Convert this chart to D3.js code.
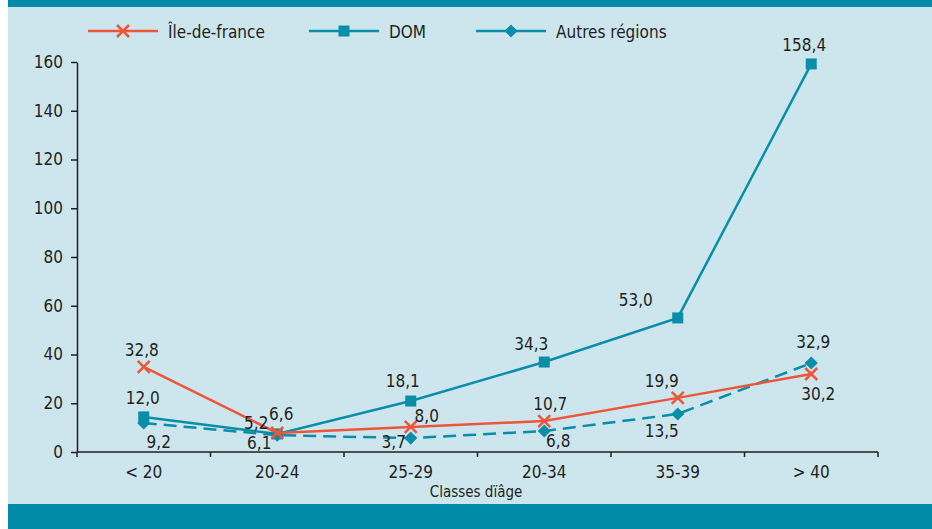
<!DOCTYPE html>
<html>
<head>
<meta charset="utf-8">
<script src="https://cdnjs.cloudflare.com/ajax/libs/d3/7.8.5/d3.min.js"></script>
<style>
body { margin: 0; background: #fff; }
svg text { font-family: "Liberation Sans Narrow", "DejaVu Sans Condensed", sans-serif; fill: #231f20; }
</style>
</head>
<body>
<svg id="chart" width="932" height="529"></svg>
<script>
// data
var categories = ["< 20", "20-24", "25-29", "20-34", "35-39", "> 40"];
var yTicks = [0, 20, 40, 60, 80, 100, 120, 140, 160];

var ileValues = [34.9, 7.8, 10.3, 12.7, 22.2, 32.0];
var ileLabels = ["32,8", "6,6", "8,0", "10,7", "19,9", "30,2"];

var domValues = [14.4, 7.4, 20.9, 36.9, 55.0, 159.2];
var domLabels = ["12,0", "5,2", "18,1", "34,3", "53,0", "158,4"];

var autresValues = [11.9, 6.9, 5.7, 8.6, 15.6, 36.5];
var autresLabels = ["9,2", "6,1", "3,7", "6,8", "13,5", "32,9"];

var red = "#ee5639", teal = "#0a8ea8";

// where each value label sits relative to its marker
var ileOffsets = [[-2, -11], [4, -13], [16, -5], [6, -11], [-16, -11], [7, 26]];
var domOffsets = [[-1, -13], [-21, -5], [-8, -14], [-13, -12], [-42, -12], [-7, -13]];
var autresOffsets = [[15, 25], [-18, 14], [-17, 10], [14, 16], [-16, 23], [2, -15]];

var series = [
    {name: "Île-de-france", values: ileValues, labels: ileLabels, offsets: ileOffsets, color: red, marker: "cross", dash: null, lx: 88},
    {name: "DOM", values: domValues, labels: domLabels, offsets: domOffsets, color: teal, marker: "square", dash: null, lx: 309},
    {name: "Autres régions", values: autresValues, labels: autresLabels, offsets: autresOffsets, color: teal, marker: "diamond", dash: "13,7", lx: 476}
];

var svg = d3.select("#chart");

// background panel and bands
svg.append("rect").attr("x", 8).attr("y", 0).attr("width", 924).attr("height", 529).attr("fill", "#cde6ee");
svg.append("rect").attr("x", 8).attr("y", 0).attr("width", 924).attr("height", 7).attr("fill", "#008ba8");
svg.append("rect").attr("x", 8).attr("y", 504).attr("width", 924).attr("height", 25).attr("fill", "#008ba8");

var x = d3.scaleBand().domain(categories).range([77, 878]);
var y = d3.scaleLinear().domain([0, 160]).range([452, 62]);
function cx(i) { return x(categories[i]) + x.bandwidth() / 2; }

// y axis
var yAxis = svg.append("g")
    .attr("transform", "translate(77,0)")
    .call(d3.axisLeft(y).tickValues(yTicks).tickSize(6).tickSizeOuter(0).tickPadding(8));
yAxis.selectAll("path, line").attr("stroke", "#231f20").attr("stroke-width", 1.5);
yAxis.selectAll("text").attr("font-size", 17).style("font-family", null);

// x axis: line, ticks at band edges, labels at centres
var xAxis = svg.append("g").attr("transform", "translate(0,452)");
xAxis.append("line").attr("x1", 77).attr("x2", 878).attr("stroke", "#231f20").attr("stroke-width", 1.5);
var edges = categories.map(function (c) { return x(c); }).concat([x.range()[1]]);
xAxis.selectAll(".tk").data(edges).enter().append("line")
    .attr("x1", function (d) { return d; }).attr("x2", function (d) { return d; })
    .attr("y1", 0).attr("y2", 5).attr("stroke", "#231f20").attr("stroke-width", 1.5);
xAxis.selectAll(".lb").data(categories).enter().append("text")
    .attr("x", function (d) { return x(d) + x.bandwidth() / 2; })
    .attr("y", 26).attr("text-anchor", "middle").attr("font-size", 17)
    .text(function (d) { return d; });

svg.append("text").attr("x", 476).attr("y", 497).attr("text-anchor", "middle")
    .attr("font-size", 15).text("Classes dïâge");

function drawMarker(g, type, px, py, color) {
    if (type === "cross") {
        g.append("path").attr("d", "M" + (px - 6) + "," + (py - 6) + "L" + (px + 6) + "," + (py + 6) +
            "M" + (px - 6) + "," + (py + 6) + "L" + (px + 6) + "," + (py - 6))
            .attr("stroke", color).attr("stroke-width", 2.5).attr("fill", "none");
    } else if (type === "square") {
        g.append("rect").attr("x", px - 5.5).attr("y", py - 5.5).attr("width", 11).attr("height", 11).attr("fill", color);
    } else {
        g.append("path").attr("d", d3.symbol().type(d3.symbolDiamond2).size(110)())
            .attr("transform", "translate(" + px + "," + py + ")").attr("fill", color);
    }
}

var line = d3.line()
    .x(function (d, i) { return cx(i); })
    .y(function (d) { return y(d); });

// draw in order: autres, dom, ile on top
[series[2], series[1], series[0]].forEach(function (s) {
    var g = svg.append("g");
    g.append("path").datum(s.values).attr("d", line)
        .attr("fill", "none").attr("stroke", s.color).attr("stroke-width", 2.5)
        .attr("stroke-dasharray", s.dash);
    s.values.forEach(function (v, i) {
        drawMarker(g, s.marker, cx(i), y(v), s.color);
    });
});

// value labels
series.forEach(function (s) {
    s.values.forEach(function (v, i) {
        svg.append("text")
            .attr("x", cx(i) + s.offsets[i][0])
            .attr("y", y(v) + s.offsets[i][1])
            .attr("text-anchor", "middle").attr("font-size", 17)
            .text(s.labels[i]);
    });
});

// legend
series.forEach(function (s) {
    var g = svg.append("g");
    g.append("line").attr("x1", s.lx).attr("x2", s.lx + 70).attr("y1", 31).attr("y2", 31)
        .attr("stroke", s.color).attr("stroke-width", 2.5);
    drawMarker(g, s.marker, s.lx + 35, 31, s.color);
    g.append("text").attr("x", s.lx + 80).attr("y", 38).attr("font-size", 17).text(s.name);
});
</script>
</body>
</html>
